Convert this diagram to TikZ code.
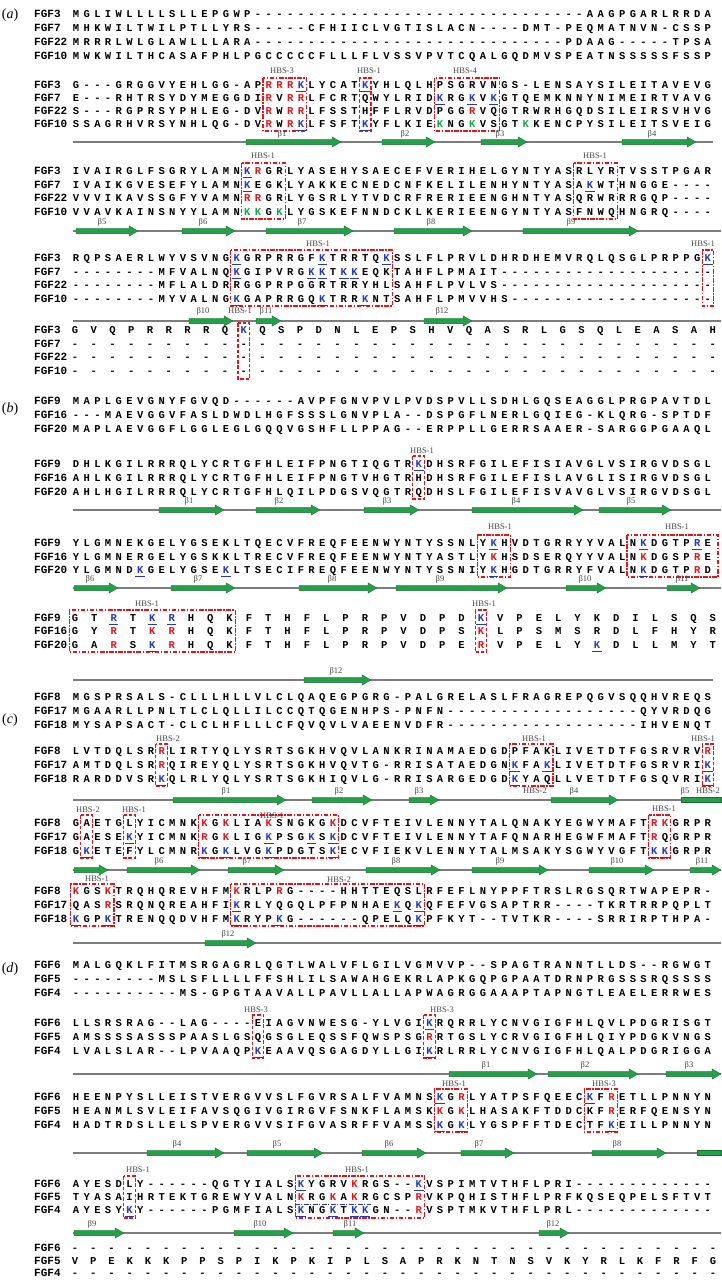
\documentclass[tikz,border=0pt]{standalone}
\usepackage{fontspec}
\setmainfont{Liberation Serif}
\newfontfamily\resfont{Liberation Mono}
\definecolor{hred}{RGB}{240,16,24}
\definecolor{hblue}{RGB}{36,56,196}
\definecolor{hgreen}{RGB}{24,168,72}
\definecolor{bgreen}{RGB}{38,158,74}
\definecolor{bgreenD}{RGB}{22,112,48}
\definecolor{lgray}{RGB}{70,70,70}
\definecolor{lineg}{RGB}{125,125,125}
\newcount\sqcol
\newcount\sqid
\def\sqmode{n}
\def\sqgobble#1{}
\newcommand\seqrow[4]{\gdef\sqy{#1}\gdef\sqx{#2}\gdef\sqdx{#3}\global\sqcol=0 \gdef\sqmode{n}\sqloop#4\relax}
\def\sqloop#1{\ifx#1\relax\let\sqnext\relax\else\def\sqnext{\sqhandle#1\sqloop}\fi\sqnext}
\def\sqhandle#1{\let\sqdo\sqplace
  \if!#1\gdef\sqmode{r}\let\sqdo\sqgobble\fi
  \if?#1\gdef\sqmode{b}\let\sqdo\sqgobble\fi
  \if*#1\gdef\sqmode{c}\let\sqdo\sqgobble\fi
  \if+#1\gdef\sqmode{g}\let\sqdo\sqgobble\fi
  \sqdo{#1}}
\def\sqplace#1{\global\advance\sqid by 1
  \edef\sqc{\number\sqcol}%
  \pgfmathsetmacro\sqxx{\sqx+\sqc*\sqdx}%
  \node[res,res\sqmode] (q\number\sqid) at (\sqxx,\sqy+3.6) {#1};%
  \path[ul\sqmode] (\sqxx-4.8,\sqy+6.4) -- (\sqxx+4.8,\sqy+6.4);%
  \global\advance\sqcol by 1 \gdef\sqmode{n}}
\newcommand\frow[6]{\node[lab] (#1) at (34,#3+3.8) {#2};\seqrow{#3}{#4}{#5}{#6}}
\newcommand\rowA[4]{\frow{#1}{#2}{#3}{76}{10.71}{#4}}
\newcommand\hbsbox[5][hbs]{\pgfmathsetmacro\bxa{\XA+(#2-1)*\DX-5.8}\pgfmathsetmacro\bxb{\XA+(#3-1)*\DX+5.8}\draw[#1] (\bxa,#4) rectangle (\bxb,#5);}
\newcommand\bstr[3]{\filldraw[strand] (#1,#3-2.6) -- (#2-9,#3-2.6) -- (#2-9,#3-5.2) -- (#2,#3) -- (#2-9,#3+5.2) -- (#2-9,#3+2.6) -- (#1,#3+2.6) -- cycle;}
\newcommand\bflat[3]{\filldraw[strand] (#1,#3-2.6) rectangle (#2,#3+2.6);}
\tikzset{
  res/.style={font=\resfont\bfseries\fontsize{10.5}{12}\selectfont,inner sep=0pt,anchor=base},
  resn/.style={}, resr/.style={text=hred}, resb/.style={text=hblue}, resc/.style={text=hblue}, resg/.style={text=hgreen},
  uln/.style={}, ulr/.style={}, ulc/.style={}, ulg/.style={}, ulb/.style={draw=hblue,line width=0.9pt},
  lab/.style={font=\resfont\bfseries\fontsize{11}{12}\selectfont,inner sep=0pt,anchor=base west},
  plab/.style={font=\fontsize{14}{16}\selectfont,inner sep=0pt},
  blbl/.style={font=\fontsize{8.5}{9}\selectfont,text=lgray,inner sep=0pt},
  hlbl/.style={font=\fontsize{8.5}{9}\selectfont,text=lgray,inner sep=0pt},
  hbs/.style={draw=hred,line width=1.15pt,dash pattern=on 4.5pt off 1.6pt on 1.4pt off 1.6pt},
  hbsd/.style={draw=hred,line width=1.15pt,dash pattern=on 3.5pt off 1.8pt},
  hbsb/.style={draw=hblue,line width=1pt,dash pattern=on 4.5pt off 1.6pt on 1.3pt off 1.6pt},
  bline/.style={draw=lineg,line width=1.1pt},
  strand/.style={fill=bgreen,draw=bgreenD,line width=0.3pt},
}
\begin{document}
\begin{tikzpicture}[x=1pt,y=-1pt]
\useasboundingbox (0,0) rectangle (721,1280);
\fill[white] (0,0) rectangle (721,1280);
\def\XA{76}\def\DX{10.71}
% ================= (a)
\node[plab] (pa) at (10,15) {(\textit{a})};
\rowA{a11}{FGF3}{14}{MGLIWLLLLS LLEPGWP--- ---------- ---------- --------AA GPGARLRRDA}
\rowA{a12}{FGF7}{28}{MHKWILTWIL PTLLYRS--- --CFHIICLV GTISLACN-- --DMT-PEQM ATNVN-CSSP}
\rowA{a13}{FGF22}{42}{MRRRLWLGLA WLLLARA--- ---------- ---------- ------PDAA G-----TPSA}
\rowA{a14}{FGF10}{56}{MWKWILTHCA SAFPHLPGCC CCCFLLLFLV SSVPVTCQAL GQDMVSPEAT NSSSSSFSSP}
% block 2
\hbsbox{19}{22}{78}{131}
\hbsbox[hbsd]{28}{28}{78}{131}
\hbsbox{35}{40}{78}{131}
\node[hlbl] (ha21) at (282,71) {HBS-3};
\node[hlbl] (ha22) at (369,71) {HBS-1};
\node[hlbl] (ha23) at (465,71) {HBS-4};
\rowA{a21}{FGF3}{85}{G---GRGGVY EHLGG-AP!R!R !R?KLYCAT?KYH LQLHPSGRVN GS-LENSAYS ILEITAVEVG}
\rowA{a22}{FGF7}{98}{E---RHTRSY DYMEGGDI!RV !R!RLFCRTQWY LRID?KRG?KV?K GTQEMKNNYN IMEIRTVAVG}
\rowA{a23}{FGF22}{111}{S---RGPRSY PHLEG-DV!RW !R!RLFSSTHFF LRVDPGG!RVQ GTRWRHGQDS ILEIRSVHVG}
\rowA{a24}{FGF10}{124}{SSAGRHVRSY NHLQG-DV!RW !R?KLFSFT?KYF LKIE+KNG+KVS GT+KKENCPYS ILEITSVEIG}
\draw[bline] (73,142) -- (713,142);
\bstr{246}{341}{142}\bstr{382}{435}{142}\bstr{481}{527}{142}\bstr{622}{696}{142}
\node[blbl] (ba1) at (282,134) {β1};
\node[blbl] (ba2) at (405,134) {β2};
\node[blbl] (ba3) at (500,134) {β3};
\node[blbl] (ba4) at (652,134) {β4};
% block 3
\hbsbox{17}{20}{163}{219}
\hbsbox{48}{51}{163}{219}
\node[hlbl] (ha31) at (263,156) {HBS-1};
\node[hlbl] (ha32) at (595,156) {HBS-1};
\rowA{a31}{FGF3}{171}{IVAIRGLFSG RYLAMN?K!RGR LYASEHYSAE CEFVERIHEL GYNTYASRLY RTVSSTPGAR}
\rowA{a32}{FGF7}{185}{IVAIKGVESE FYLAMN?KEGK LYAKKECNED CNFKELILEN HYNTYASA?KW THNGGE----}
\rowA{a33}{FGF22}{198}{VVVIKAVSSG FYVAMN!R!RGR LYGSRLYTVD CRFRERIEEN GHNTYASQRW RRRGQP----}
\rowA{a34}{FGF10}{212}{VVAVKAINSN YYLAMN+K+KG+K LYGSKEFNND CKLKERIEEN GYNTYASFNW QHNGRQ----}
\draw[bline] (73,231) -- (721,231);
\bstr{76}{138}{231}\bstr{182}{235}{231}\bstr{266}{353}{231}\bstr{394}{472}{231}\bstr{523}{638}{231}
\node[blbl] (ba5) at (102,222) {β5};
\node[blbl] (ba6) at (203,222) {β6};
\node[blbl] (ba7) at (302,222) {β7};
\node[blbl] (ba8) at (431,222) {β8};
\node[blbl] (ba9) at (571,222) {β9};
% block 4
\hbsbox{16}{30}{250}{306}
\hbsbox{60}{60}{250}{306}
\node[hlbl] (ha41) at (318,244) {HBS-1};
\node[hlbl] (ha42) at (703,244) {HBS-1};
\rowA{a41}{FGF3}{258}{RQPSAERLWY VSVNG?KGRPR RGF?KTRRTQ?K SSLFLPRVLD HRDHEMVRQL QSGLPRPPG?K}
\rowA{a42}{FGF7}{272}{--------MF VALNQ?KGIPV RG?K?KT?K?KEQK TAHFLPMAIT ---------- ----------}
\rowA{a43}{FGF22}{285}{--------MF LALDRRGGPR PGGRTRRYHL SAHFLPVLVS ---------- ----------}
\rowA{a44}{FGF10}{299}{--------MY VALNG?KGAPR RGQ?KTRR?KNT SAHFLPMVVH S--------- ----------}
\draw[bline] (73,321) -- (721,321);
\bstr{189}{233}{321}\bstr{256}{281}{321}\bstr{424}{472}{321}
\node[blbl] (ba10) at (203,311) {β10};
\node[hlbl] (ha43) at (240,311) {HBS-1};
\node[blbl] (ba11) at (266,311) {β11};
\node[blbl] (ba12) at (442,311) {β12};
% block 5
\def\XA{75}\def\DX{18.76}
\hbsbox[hbsd]{10}{10}{323}{379}
\frow{a51}{FGF3}{330}{75}{18.76}{GVQPRRRRQ*KQSPDNLEPSHVQASRLGSQLEASAH}
\frow{a52}{FGF7}{344}{75}{18.76}{---------- ---------- ---------- -----}
\frow{a53}{FGF22}{357}{75}{18.76}{---------- ---------- ---------- -----}
\frow{a54}{FGF10}{371}{75}{18.76}{---------- ---------- ---------- -----}
\def\XA{76}\def\DX{10.71}
% ================= (b)
\node[plab] (pb) at (10,409) {(\textit{b})};
\rowA{b11}{FGF9}{401}{MAPLGEVGNY FGVQD----- -AVPFGNVPV LPVDSPVLLS DHLGQSEAGG LPRGPAVTDL}
\rowA{b12}{FGF16}{415}{---MAEVGGV FASLDWDLHG FSSSLGNVPL A--DSPGFLN ERLGQIEG-K LQRG-SPTDF}
\rowA{b13}{FGF20}{429}{MAPLAEVGGF LGGLEGLGQQ VGSHFLLPPA G--ERPPLLG ERRSAAER-S ARGGPGAAQL}
\hbsbox[hbsd]{33}{33}{456}{499}
\node[hlbl] (hb21) at (422,451) {HBS-1};
\rowA{b21}{FGF9}{464}{DHLKGILRRR QLYCRTGFHL EIFPNGTIQG TR?KDHSRFGI LEFISIAVGL VSIRGVDSGL}
\rowA{b22}{FGF16}{478}{AHLKGILRRR QLYCRTGFHL EIFPNGTVHG TRHDHSRFGI LEFISLAVGL ISIRGVDSGL}
\rowA{b23}{FGF20}{492}{AHLHGILRRR QLYCRTGFHL QILPDGSVQG TRQDHSLFGI LEFISVAVGL VSIRGVDSGL}
\draw[bline] (73,510) -- (721,510);
\bstr{159}{224}{510}\bstr{256}{320}{510}\bstr{364}{419}{510}\bstr{472}{583}{510}\bstr{599}{671}{510}
\node[blbl] (bb1) at (189,501) {β1};
\node[blbl] (bb2) at (279,501) {β2};
\node[blbl] (bb3) at (387,501) {β3};
\node[blbl] (bb4) at (516,501) {β4};
\node[blbl] (bb5) at (631,501) {β5};
\hbsbox{39}{41}{535}{577}
\draw[hbs] (627,535) rectangle (718,577);
\node[hlbl] (hb31) at (500,527) {HBS-1};
\node[hlbl] (hb32) at (677,527) {HBS-1};
\rowA{b31}{FGF9}{543}{YLGMNEKGEL YGSEKLTQEC VFREQFEENW YNTYSSNLY?K HVDTGRRYYV ALN?KDGTP?RE}
\rowA{b32}{FGF16}{557}{YLGMNERGEL YGSKKLTREC VFREQFEENW YNTYASTLY!K HSDSERQYYV ALN!KDGSP!RE}
\rowA{b33}{FGF20}{570}{YLGMND?KGEL YGSE?KLTSEC IFREQFEENW YNTYSSNIY?K HGDTGRRYFV ALN?KDGTP!RD}
\draw[bline] (73,588) -- (721,588);
\bstr{74}{118}{588}\bstr{171}{235}{588}\bstr{299}{377}{588}\bstr{396}{507}{588}\bstr{566}{606}{588}\bstr{667}{700}{588}
\node[blbl] (bb6) at (90,579) {β6};
\node[blbl] (bb7) at (198,579) {β7};
\node[blbl] (bb8) at (332,579) {β8};
\node[blbl] (bb9) at (440,579) {β9};
\node[blbl] (bb10) at (585,579) {β10};
\node[blbl] (bb11) at (682,579) {β11};
\def\XA{75}\def\DX{19.33}
\hbsbox{1}{9}{610}{652}
\hbsbox[hbsd]{22}{22}{610}{652}
\node[hlbl] (hb41) at (147,604) {HBS-1};
\node[hlbl] (hb42) at (484,604) {HBS-1};
\frow{b41}{FGF9}{618}{75}{19.33}{GT?RT?K?RHQKFTHFLPRPVDPD?KVPELYKDILSQS}
\frow{b42}{FGF16}{631}{75}{19.33}{GY!RT!K!RHQKFTHFLPRPVDPS!KLPSMSRDLFHYR}
\frow{b43}{FGF20}{645}{75}{19.33}{GA!RS?K!RHQKFTHFLPRPVDPE!RVPELY?KDLLMYT}
\def\XA{76}\def\DX{10.71}
\draw[bline] (73,680) -- (713,680);
\bstr{304}{371}{680}
\node[blbl] (bb12) at (336,671) {β12};
% ================= (c)
\node[plab] (pc) at (10,720) {(\textit{c})};
\rowA{c11}{FGF8}{697}{MGSPRSALS- CLLLHLLVLC LQAQEGPGRG -PALGRELAS LFRAGREPQG VSQQHVREQS}
\rowA{c12}{FGF17}{711}{MGAARLLPNL TLCLQLLILC CQTQGENHPS -PNFN----- ---------- ---QYVRDQG}
\rowA{c13}{FGF18}{725}{MYSAPSACT- CLCLHFLLLC FQVQVLVAEE NVDFR----- ---------- ---IHVENQT}
\hbsbox[hbsd]{9}{9}{744}{786}
\hbsbox{42}{45}{744}{786}
\hbsbox[hbsd]{60}{60}{744}{786}
\node[hlbl] (hc21) at (168,739) {HBS-2};
\node[hlbl] (hc22) at (534,739) {HBS-1};
\node[hlbl] (hc23) at (703,739) {HBS-1};
\rowA{c21}{FGF8}{751}{LVTDQLSR!RL IRTYQLYSRT SGKHVQVLAN KRINAMAEDG DPFAKLIVET DTFGSRVRV!R}
\rowA{c22}{FGF17}{765}{AMTDQLSR!RQ IREYQLYSRT SGKHVQVTG- RRISATAEDG N?KFA?KLIVET DTFGSRVRI?K}
\rowA{c23}{FGF18}{779}{RARDDVSR?KQ LRLYQLYSRT SGKHIQVLG- RRISARGEDG D?KYAQLLVET DTFGSQVRI?K}
\draw[bline] (73,800) -- (721,800);
\bstr{173}{286}{800}\bstr{312}{372}{800}\bstr{409}{439}{800}\bstr{551}{618}{800}\bflat{681}{721}{800}
\node[blbl] (bc1) at (226,791) {β1};
\node[blbl] (bc2) at (339,791) {β2};
\node[blbl] (bc3) at (419,791) {β3};
\node[hlbl] (hc24) at (535,791) {HBS-2};
\node[blbl] (bc4) at (574,791) {β4};
\node[blbl] (bc5) at (685,791) {β5};
\node[hlbl] (hc25) at (708,791) {HBS-2};
\hbsbox[hbsd]{2}{2}{815}{858}
\hbsbox[hbsd]{6}{6}{815}{858}
\hbsbox{13}{25}{815}{858}
\hbsbox{55}{56}{815}{858}
\node[hlbl] (hc31) at (88,810) {HBS-2};
\node[hlbl] (hc32) at (134,810) {HBS-1};
\node[hlbl] (hc33) at (272,816) {HBS-1};
\node[hlbl] (hc34) at (664,809) {HBS-1};
\rowA{c31}{FGF8}{823}{GAETGLYICM NK!KG!KLIA!KS NGKG!KDCVFT EIVLENNYTA LQNAKYEGWY MAFT!R!KGRPR}
\rowA{c32}{FGF17}{837}{GAESE?KYICM NK!RG!KLIG?KP SG?KS?KDCVFT EIVLENNYTA FQNARHEGWF MAFT!RQGRPR}
\rowA{c33}{FGF18}{851}{G?KETEFYLCM NR?KG?KLVG?KP DGTS?KECVFI EKVLENNYTA LMSAKYSGWY VGFT?K?KGRPR}
\draw[bline] (73,870) -- (721,870);
\bstr{74}{108}{870}\bstr{127}{200}{870}\bstr{228}{284}{870}\bstr{366}{440}{870}\bstr{472}{548}{870}\bstr{589}{654}{870}\bstr{690}{721}{870}
\node[blbl] (bc6) at (159,861) {β6};
\node[blbl] (bc7) at (247,861) {β7};
\node[blbl] (bc8) at (396,861) {β8};
\node[blbl] (bc9) at (500,861) {β9};
\node[blbl] (bc10) at (617,861) {β10};
\node[blbl] (bc11) at (702,861) {β11};
\hbsbox{1}{4}{884}{926}
\hbsbox{16}{33}{884}{926}
\node[hlbl] (hc41) at (97,879) {HBS-1};
\node[hlbl] (hc42) at (339,880) {HBS-2};
\rowA{c41}{FGF8}{891}{!KGS!KTRQHQR EVHFM!KRLP!R G----HHTTE QSLRFEFLNY PPFTRSLRGS QRTWAPEPR-}
\rowA{c42}{FGF17}{905}{QAS!RSRQNQR EAHFI?KRLYQ GQLPFPNHAE ?KQ?KQFEFVGS APTRR----T KRTRRPQPLT}
\rowA{c43}{FGF18}{919}{?KGP?KTRENQQ DVHFM?KRYP?K G------QPE LQ?KPFKYT-- TVTKR----S RRIRPTHPA-}
\draw[bline] (73,943) -- (721,943);
\bstr{205}{256}{943}
\node[blbl] (bc12) at (228,934) {β12};
% ================= (d)
\node[plab] (pd) at (10,969) {(\textit{d})};
\rowA{d11}{FGF6}{965}{MALGQKLFIT MSRGAGRLQG TLWALVFLGI LVGMVVP--S PAGTRANNTL LDS--RGWGT}
\rowA{d12}{FGF5}{979}{--------MS LSFLLLLFFS HLILSAWAHG EKRLAPKGQP GPAATDRNPR GSSSRQSSSS}
\rowA{d13}{FGF4}{993}{---------- MS-GPGTAAV ALLPAVLLAL LAPWAGRGGA AAPTAPNGTL EAELERRWES}
\hbsbox[hbsd]{18}{18}{1015}{1058}
\hbsbox[hbsd]{34}{34}{1015}{1058}
\node[hlbl] (hd21) at (256,1010) {HBS-3};
\node[hlbl] (hd22) at (442,1010) {HBS-3};
\rowA{d21}{FGF6}{1023}{LLSRSRAG-- LAG----EIA GVNWESG-YL VGI?KRQRRLY CNVGIGFHLQ VLPDGRISGT}
\rowA{d22}{FGF5}{1037}{AMSSSSASSS PAASLGSQGS GLEQSSFQWS PSG!RRTGSLY CRVGIGFHLQ IYPDGKVNGS}
\rowA{d23}{FGF4}{1051}{LVALSLAR-- LPVAAQP?KEA AVQSGAGDYL LGI?KRLRRLY CNVGIGFHLQ ALPDGRIGGA}
\draw[bline] (73,1074) -- (721,1074);
\bstr{449}{537}{1074}\bstr{548}{638}{1074}\bstr{666}{721}{1074}
\node[blbl] (bd1) at (486,1065) {β1};
\node[blbl] (bd2) at (585,1065) {β2};
\node[blbl] (bd3) at (689,1065) {β3};
\hbsbox{35}{37}{1089}{1132}
\hbsbox{49}{51}{1089}{1132}
\node[hlbl] (hd31) at (454,1084) {HBS-1};
\node[hlbl] (hd32) at (604,1084) {HBS-3};
\rowA{d31}{FGF6}{1097}{HEENPYSLLE ISTVERGVVS LFGVRSALFV AMNS?KG!RLYA TPSFQEEC?KF !RETLLPNNYN}
\rowA{d32}{FGF5}{1111}{HEANMLSVLE IFAVSQGIVG IRGVFSNKFL AMSK!KG!KLHA SAKFTDDCKF !RERFQENSYN}
\rowA{d33}{FGF4}{1125}{HADTRDSLLE LSPVERGVVS IFGVASRFFV AMSS?KG?KLYG SPFFTDECTF ?KEILLPNNYN}
\draw[bline] (73,1153) -- (721,1153);
\bstr{147}{224}{1153}\bstr{247}{323}{1153}\bstr{362}{426}{1153}\bstr{461}{514}{1153}\bstr{592}{666}{1153}\bflat{697}{721}{1153}
\node[blbl] (bd4) at (177,1144) {β4};
\node[blbl] (bd5) at (277,1144) {β5};
\node[blbl] (bd6) at (389,1144) {β6};
\node[blbl] (bd7) at (479,1144) {β7};
\node[blbl] (bd8) at (617,1144) {β8};
\hbsbox[hbsd]{6}{6}{1176}{1218}
\hbsbox{22}{33}{1176}{1218}
\draw[hbsb] (295,1204) -- (371,1204);
\node[hlbl] (hd41) at (138,1170) {HBS-1};
\node[hlbl] (hd42) at (357,1170) {HBS-1};
\rowA{d41}{FGF6}{1184}{AYESDLY--- ---QGTYIAL S?KYGRV!KRGS --?KVSPIMTV THFLPRI--- ----------}
\rowA{d42}{FGF5}{1197}{TYASAIHRTE KTGREWYVAL N!KRG!KA!KRGC SP!RVKPQHIS THFLPRFKQS EQPELSFTVT}
\rowA{d43}{FGF4}{1210}{AYESY?KY--- ---PGMFIAL S?KNG?KT?K?KGN --!RVSPTMKV THFLPRL--- ----------}
\draw[bline] (73,1233) -- (721,1233);
\bstr{74}{124}{1233}\bstr{234}{293}{1233}\bstr{333}{364}{1233}\bstr{539}{569}{1233}
\node[blbl] (bd9) at (92,1224) {β9};
\node[blbl] (bd10) at (260,1224) {β10};
\node[blbl] (bd11) at (350,1224) {β11};
\node[blbl] (bd12) at (553,1224) {β12};
\frow{d51}{FGF6}{1248}{75}{18.23}{---------- ---------- ---------- ------}
\frow{d52}{FGF5}{1261}{75}{18.23}{VPEKKKPPSP IKPKIPLSAP RKNTNSVKYR LKFRFG}
\frow{d53}{FGF4}{1273}{75}{18.23}{---------- ---------- ---------- ------}
\end{tikzpicture}
\end{document}
